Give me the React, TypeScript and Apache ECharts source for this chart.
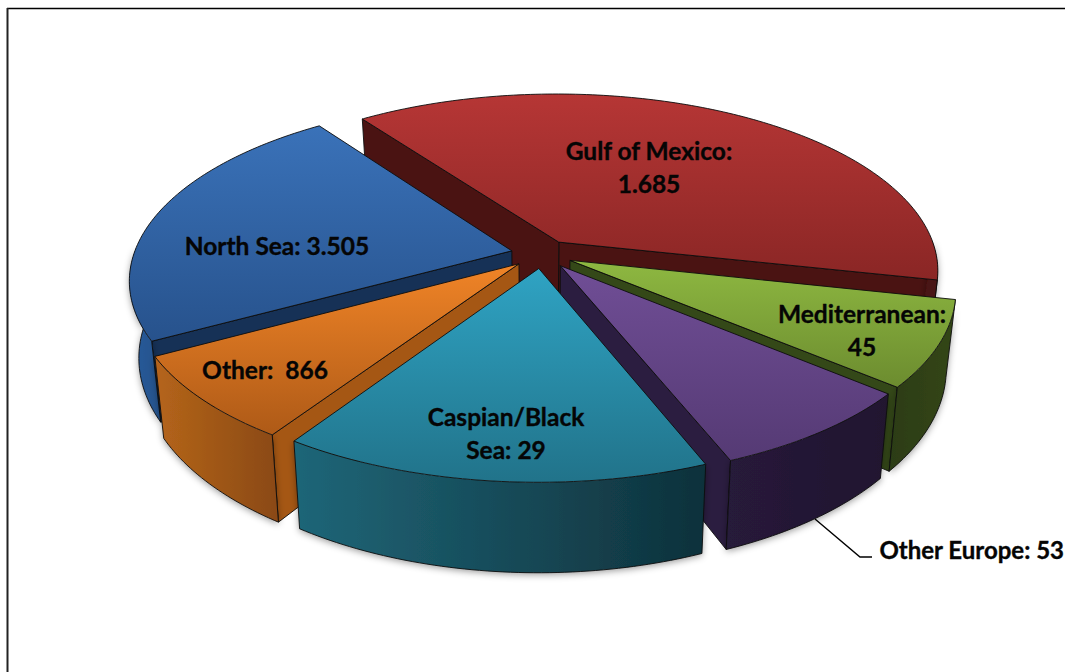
import React, { useEffect, useRef } from "react";
import * as echarts from "echarts";

// Slice names and shares run clockwise from the upper-left edge of the largest slice.
const categories = ["Gulf of Mexico", "Mediterranean", "Other Europe", "Caspian/Black Sea", "Other", "North Sea"];
const sliceShares = [38.4, 7.7, 7.8, 15.4, 7.7, 23.0];
// Figures printed on the slices are quoted from the source; they do not scale with the shares above.
const sliceLabels = ["Gulf of Mexico:\n1.685", "Mediterranean:\n45", "Other Europe: 53", "Caspian/Black\nSea: 29", "Other:  866", "North Sea: 3.505"];

const topColors = [
  ["#B63635", "#8A2625"],
  ["#8EB841", "#6C8C2F"],
  ["#704E96", "#553A74"],
  ["#2FA3C3", "#21738A"],
  ["#F08427", "#AE5A17"],
  ["#3A72B9", "#27528C"],
];
const cutColors = ["#4A1312", "#344818", "#2B1D40", "#12333D", "#A55714", "#163156"];
const rimColors = [
  ["#4A1312", "#4A1312"],
  ["#2C3C13", "#334617"],
  ["#271A3A", "#20162F"],
  ["#1F6678", "#0E313B"],
  ["#B5651B", "#8A4912"],
  ["#2A5C9C", "#24528B"],
];

// Perspective view of the pie plane; unit radius, Y pointing away from the viewer.
const CX = 542;
const CY = 254;
const SCALE_X = 378;
const SCALE_Y = 175;
const FORESHORTEN = 0.158;
const THICKNESS = 75;
const BASE_SHRINK = 0.977;
const EXPLODE = 0.082;
const START_ANGLE = 125.9;

const project = (x: number, y: number, base: boolean) => {
  const w = 1 + FORESHORTEN * y;
  const sx = CX + (SCALE_X * x * (base ? BASE_SHRINK : 1)) / w;
  const sy = CY - (SCALE_Y * y) / w + (base ? THICKNESS / w : 0);
  return [sx, sy];
};

const rad = (d: number) => (d * Math.PI) / 180;
const total = sliceShares.reduce((a, b) => a + b, 0);

type Slice = { index: number; from: number; to: number; ox: number; oy: number };
let cursor = START_ANGLE;
const slices: Slice[] = sliceShares.map((share, index) => {
  const to = cursor;
  const from = cursor - (share / total) * 360;
  cursor = from;
  const mid = rad((from + to) / 2);
  return { index, from, to, ox: EXPLODE * Math.cos(mid), oy: EXPLODE * Math.sin(mid) };
});
// Paint from the back of the pie to the front.
const paintOrder = [...slices].sort(
  (a, b) => Math.sin(rad((b.from + b.to) / 2)) - Math.sin(rad((a.from + a.to) / 2))
);

const rimPoint = (s: Slice, deg: number, base: boolean) =>
  project(s.ox + Math.cos(rad(deg)), s.oy + Math.sin(rad(deg)), base);

const sampleAngles = (s: Slice) => {
  const out: number[] = [];
  for (let a = s.from; a < s.to; a += 1) out.push(a);
  out.push(s.to);
  return out;
};

const edgeStyle = { stroke: "#0c0c0c", lineWidth: 0.9, lineJoin: "round" };
const isNear = (deg: number) => Math.sin(rad(deg)) <= 0.02;

const renderSlice = (params: any) => {
  const s = paintOrder[params.dataIndex];
  const i = s.index;
  const children: any[] = [];
  const apexTop = project(s.ox, s.oy, false);
  const apexBase = project(s.ox, s.oy, true);

  // Cut faces: only the ones turned towards the viewer.
  [
    { deg: s.from, normal: s.from - 90 },
    { deg: s.to, normal: s.to + 90 },
  ].forEach(({ deg, normal }) => {
    if (Math.sin(rad(normal)) < 0) {
      children.push({
        type: "polygon",
        silent: true,
        shape: { points: [apexTop, rimPoint(s, deg, false), rimPoint(s, deg, true), apexBase] },
        style: { fill: cutColors[i], ...edgeStyle },
      });
    }
  });

  // Curved outer wall on the near half of the circle; its outline is the base arc
  // and the corners that belong to a cut, never the culling boundary.
  const near = sampleAngles(s).filter(isNear);
  if (near.length > 1) {
    const upper = near.map((a) => rimPoint(s, a, false));
    const lower = near.map((a) => rimPoint(s, a, true));
    children.push({
      type: "polygon",
      silent: true,
      shape: { points: [...upper, ...[...lower].reverse()] },
      style: {
        fill: new echarts.graphic.LinearGradient(0, 0, 1, 0, [
          { offset: 0, color: rimColors[i][0] },
          { offset: 1, color: rimColors[i][1] },
        ]),
        shadowBlur: 7,
        shadowColor: "rgba(0,0,0,0.4)",
        shadowOffsetY: 2,
      },
    });
    children.push({
      type: "polyline",
      silent: true,
      shape: { points: lower },
      style: { fill: "none", ...edgeStyle },
    });
    [s.from, s.to].filter(isNear).forEach((deg) => {
      children.push({
        type: "polyline",
        silent: true,
        shape: { points: [rimPoint(s, deg, false), rimPoint(s, deg, true)] },
        style: { fill: "none", ...edgeStyle },
      });
    });
  }

  // Top face.
  children.push({
    type: "polygon",
    silent: true,
    shape: { points: [apexTop, ...sampleAngles(s).map((a) => rimPoint(s, a, false))] },
    style: {
      fill: new echarts.graphic.LinearGradient(0, 0, 0, 1, [
        { offset: 0, color: topColors[i][0] },
        { offset: 1, color: topColors[i][1] },
      ]),
      ...edgeStyle,
    },
  });
  return { type: "group", children };
};

const labelFont = {
  fontFamily: "Lato, 'Open Sans', sans-serif",
  fontWeight: "bold",
  fontSize: 24.5,
  lineHeight: 33,
  fill: "#050505",
  stroke: "#050505",
  lineWidth: 0.35,
};
const labelAt = (index: number, x: number, y: number, align = "center", size = 24.5) => ({
  type: "text",
  x,
  y,
  z: 20,
  silent: true,
  style: { text: sliceLabels[index], textAlign: align, textVerticalAlign: "middle", ...labelFont, fontSize: size },
});

export default function App() {
  const ref = useRef<HTMLDivElement>(null);
  useEffect(() => {
    document.body.style.margin = "0";
    const chart = echarts.init(ref.current!, undefined, { renderer: "svg" });
    chart.setOption({
      animation: false,
      backgroundColor: "#ffffff",
      series: [
        {
          type: "custom",
          coordinateSystem: "none",
          z: 2,
          renderItem: renderSlice,
          data: paintOrder.map((s) => ({ name: categories[s.index], value: sliceShares[s.index] })),
        },
      ],
      graphic: {
        z: 20,
        elements: [
          { type: "line", silent: true, shape: { x1: 7, y1: 8.5, x2: 1065, y2: 8.5 }, style: { stroke: "#000", lineWidth: 1.5 } },
          { type: "line", silent: true, shape: { x1: 7.5, y1: 8, x2: 7.5, y2: 672 }, style: { stroke: "#222", lineWidth: 2 } },
          { type: "polyline", silent: true, shape: { points: [[815, 519], [860, 557], [872, 557]] }, style: { fill: "none", stroke: "#000", lineWidth: 1.4 } },
          labelAt(0, 649, 167),
          labelAt(5, 277, 245),
          labelAt(4, 265, 369),
          labelAt(3, 506, 433),
          labelAt(1, 862, 330),
          labelAt(2, 1064, 549, "right", 24),
        ],
      },
    });
    return () => chart.dispose();
  }, []);
  return <div ref={ref} style={{ position: "absolute", left: 0, top: 0, width: 1065, height: 672 }} />;
}
